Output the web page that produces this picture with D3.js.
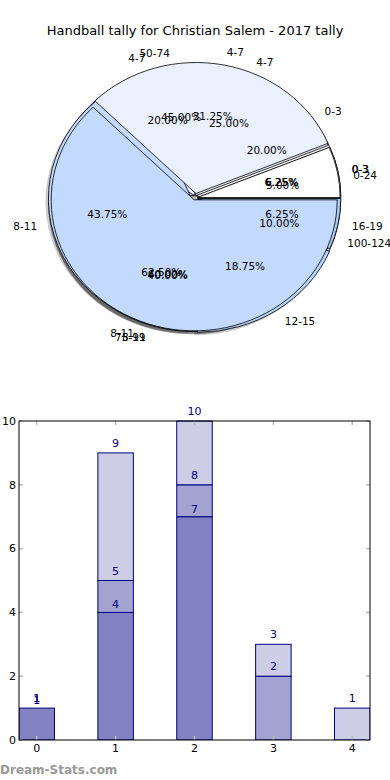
<!DOCTYPE html>
<html>
<head>
<meta charset="utf-8">
<script src="https://cdn.jsdelivr.net/npm/d3@7"></script>
<style>
  body { margin: 0; background: #fff; }
  svg { font-family: "DejaVu Sans", sans-serif; }
</style>
</head>
<body>
<svg id="chart" width="390" height="780"></svg>
<script>
// pie data (drawn bottom to top)
var shootLabels = ['0-24', '50-74', '75-99', '100-124'];
var shootValues = [1, 9, 8, 2];
var goalLabels2 = ['0-3', '4-7', '8-11'];
var goalValues2 = [4, 4, 12];
var goalLabels1 = ['0-3', '4-7', '8-11', '12-15', '16-19'];
var goalValues1 = [1, 4, 7, 3, 1];
var topLabels = ['0-3', '4-7', '8-11'];
var topValues = [1, 5, 10];

// bar data
var barCats = [0, 1, 2, 3, 4];
var darkVals = [1, 4, 7, 0, 0];
var midVals = [0, 1, 1, 2, 0];
var lightVals = [0, 4, 2, 1, 1];
var yTicks = [0, 2, 4, 6, 8, 10];

(function () {
var svg = d3.select('#chart');
var wedgeColors = ['#ffffff', '#eaf0fd', '#c4d9fe', '#b6d3fa', '#a9cbf7'];

svg.append('text')
    .attr('x', 195).attr('y', 35)
    .attr('text-anchor', 'middle')
    .style('font-size', '13px')
    .text('Handball tally for Christian Salem - 2017 tally');

// ---- pies ----
var cx = 195, cy = 198, rx = 143, ry = 131;
var pies = [
    {labels: shootLabels, values: shootValues, explode: [0.02, 0.02, 0.02, 0.02]},
    {labels: goalLabels2, values: goalValues2, explode: [0.02, 0.02, 0.015]},
    {labels: goalLabels1, values: goalValues1, explode: [0.02, 0.02, 0.025, 0.03, 0.02]},
    {labels: topLabels, values: topValues, explode: [0.015, 0.035, 0.015]}
];

// matplotlib style: start at 3 o'clock, counter clockwise
var pie = d3.pie().sort(null).startAngle(Math.PI / 2).endAngle(Math.PI / 2 - 2 * Math.PI);
var arc = d3.arc().innerRadius(0).outerRadius(1);

var shadowG = svg.append('g');
var pieG = svg.append('g');
var textG = svg.append('g');

pies.forEach(function (p) {
    var arcs = pie(p.values);
    var g = pieG.append('g');
    var total = d3.sum(p.values);
    arcs.forEach(function (a, i) {
        var mid = Math.PI / 2 - (a.startAngle + a.endAngle) / 2; // math angle
        var e = p.explode[i];
        var c = Math.cos(mid), s = Math.sin(mid);
        var ox = cx + e * rx * c;
        var oy = cy - e * ry * s;
        shadowG.append('path')
            .attr('d', arc(a))
            .attr('transform', 'translate(' + (ox - 3) + ',' + (oy + 3) + ') scale(' + rx + ',' + ry + ')')
            .attr('fill', '#000').attr('fill-opacity', 0.2);
        g.append('path')
            .attr('d', arc(a))
            .attr('transform', 'translate(' + ox + ',' + oy + ') scale(' + rx + ',' + ry + ')')
            .attr('fill', wedgeColors[i])
            .attr('stroke', '#000')
            .attr('stroke-width', 0.8)
            .attr('vector-effect', 'non-scaling-stroke');

        textG.append('text')
            .attr('x', ox + 1.1 * rx * c)
            .attr('y', oy - 1.1 * ry * s)
            .attr('dy', '0.35em')
            .attr('text-anchor', c >= 0 ? 'start' : 'end')
            .style('font-size', '10.5px')
            .text(p.labels[i]);
        textG.append('text')
            .attr('x', ox + 0.6 * rx * c)
            .attr('y', oy - 0.6 * ry * s)
            .attr('dy', '0.35em')
            .attr('text-anchor', 'middle')
            .style('font-size', '10.5px')
            .text((100 * a.value / total).toFixed(2) + '%');
    });
});

// ---- stacked bars ----
var pl = 19, pr = 370, pt = 421, pb = 740;
var x = d3.scaleLinear().domain([-0.225, 4.225]).range([pl, pr]);
var y = d3.scaleLinear().domain([0, 10]).range([pb, pt]);
var bw = x(0.45) - x(0);

svg.append('clipPath').attr('id', 'plotclip')
    .append('rect').attr('x', pl).attr('y', pt - 1)
    .attr('width', pr - pl).attr('height', pb - pt + 1);

var series = [
    {vals: darkVals, color: '#8282c2', off: 4},
    {vals: midVals, color: '#a3a3d1', off: 6},
    {vals: lightVals, color: '#cdcde6', off: 6}
];
var barG = svg.append('g').attr('clip-path', 'url(#plotclip)');
var labG = svg.append('g');
var base = barCats.map(function () { return 0; });
series.forEach(function (sr) {
    barCats.forEach(function (c, i) {
        var v = sr.vals[i];
        var b0 = base[i], b1 = base[i] + v;
        if (v > 0) {
            barG.append('rect')
                .attr('x', x(c) - bw / 2)
                .attr('y', y(b1))
                .attr('width', bw)
                .attr('height', y(b0) - y(b1))
                .attr('fill', sr.color)
                .attr('stroke', '#000080')
                .attr('stroke-width', 1);
        }
        if (b1 > 0) {
            labG.append('text')
                .attr('x', x(c))
                .attr('y', y(b1) - sr.off)
                .attr('text-anchor', 'middle')
                .attr('fill', '#000080')
                .style('font-size', '11px')
                .text(b1);
        }
        base[i] = b1;
    });
});

// axes frame and ticks
var axG = svg.append('g');
yTicks.forEach(function (t) {
    axG.append('line').attr('x1', pl).attr('x2', pl + 4)
        .attr('y1', y(t)).attr('y2', y(t)).attr('stroke', '#bbb').attr('stroke-width', 1.5);
    axG.append('line').attr('x1', pr - 4).attr('x2', pr)
        .attr('y1', y(t)).attr('y2', y(t)).attr('stroke', '#bbb').attr('stroke-width', 1.5);
    axG.append('text').attr('x', pl - 3).attr('y', y(t)).attr('dy', '0.35em')
        .attr('text-anchor', 'end').style('font-size', '11px').text(t);
});
barCats.forEach(function (c) {
    axG.append('line').attr('x1', x(c)).attr('x2', x(c))
        .attr('y1', pb).attr('y2', pb - 4).attr('stroke', '#bbb').attr('stroke-width', 1.5);
    axG.append('line').attr('x1', x(c)).attr('x2', x(c))
        .attr('y1', pt).attr('y2', pt + 4).attr('stroke', '#bbb').attr('stroke-width', 1.5);
    axG.append('text').attr('x', x(c)).attr('y', pb + 12)
        .attr('text-anchor', 'middle').style('font-size', '11px').text(c);
});
axG.append('rect').attr('x', pl).attr('y', pt)
    .attr('width', pr - pl).attr('height', pb - pt)
    .attr('fill', 'none').attr('stroke', '#000').attr('stroke-width', 1);

svg.append('text')
    .attr('x', 0).attr('y', 774)
    .attr('fill', '#999')
    .style('font-size', '12px')
    .style('font-weight', 'bold')
    .text('Dream-Stats.com');
})();
</script>
</body>
</html>
